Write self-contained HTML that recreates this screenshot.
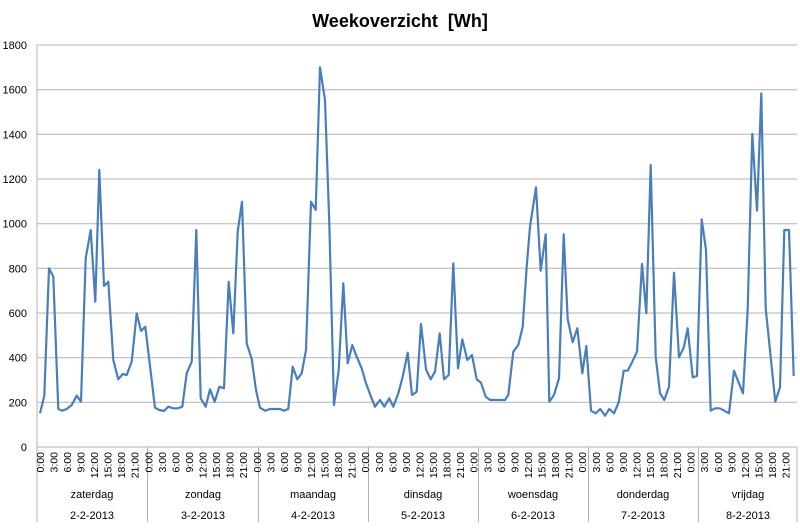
<!DOCTYPE html>
<html><head><meta charset="utf-8"><style>
html,body{margin:0;padding:0;background:#fff;}
svg{display:block;font-family:"Liberation Sans",Calibri,sans-serif;}
</style></head><body>
<svg width="800" height="529" viewBox="0 0 800 529" xmlns="http://www.w3.org/2000/svg">
<rect width="800" height="529" fill="#fff"/>
<text x="400" y="27" text-anchor="middle" font-size="18" font-weight="bold" fill="#000">Weekoverzicht&#160; [Wh]</text>
<g stroke="#b3b3b3" stroke-width="1">
<line x1="37" y1="45" x2="797" y2="45"/>
<line x1="37" y1="89.7" x2="797" y2="89.7"/>
<line x1="37" y1="134.3" x2="797" y2="134.3"/>
<line x1="37" y1="179" x2="797" y2="179"/>
<line x1="37" y1="223.7" x2="797" y2="223.7"/>
<line x1="37" y1="268.3" x2="797" y2="268.3"/>
<line x1="37" y1="313" x2="797" y2="313"/>
<line x1="37" y1="357.7" x2="797" y2="357.7"/>
<line x1="37" y1="402.3" x2="797" y2="402.3"/>
<line x1="37" y1="447" x2="797" y2="447"/>
<line x1="37" y1="45" x2="37" y2="522"/>
<line x1="147.5" y1="447" x2="147.5" y2="522"/>
<line x1="258.5" y1="447" x2="258.5" y2="522"/>
<line x1="368.5" y1="447" x2="368.5" y2="522"/>
<line x1="478.5" y1="447" x2="478.5" y2="522"/>
<line x1="588.5" y1="447" x2="588.5" y2="522"/>
<line x1="698.5" y1="447" x2="698.5" y2="522"/>
<line x1="797" y1="447" x2="797" y2="522"/>
</g>
<g font-size="11" fill="#000" text-anchor="end">
<text x="27" y="49">1800</text>
<text x="27" y="93.7">1600</text>
<text x="27" y="138.3">1400</text>
<text x="27" y="183">1200</text>
<text x="27" y="227.7">1000</text>
<text x="27" y="272.3">800</text>
<text x="27" y="317">600</text>
<text x="27" y="361.7">400</text>
<text x="27" y="406.3">200</text>
<text x="27" y="451">0</text>
</g>
<g id="ticks" font-size="10.5" fill="#000" text-anchor="end"></g>
<g font-size="11" fill="#000" text-anchor="middle">
<text x="92" y="498">zaterdag</text><text x="92" y="519">2-2-2013</text>
<text x="203" y="498">zondag</text><text x="203" y="519">3-2-2013</text>
<text x="313" y="498">maandag</text><text x="313" y="519">4-2-2013</text>
<text x="423" y="498">dinsdag</text><text x="423" y="519">5-2-2013</text>
<text x="533" y="498">woensdag</text><text x="533" y="519">6-2-2013</text>
<text x="643" y="498">donderdag</text><text x="643" y="519">7-2-2013</text>
<text x="748" y="498">vrijdag</text><text x="748" y="519">8-2-2013</text>
</g>
<polyline fill="none" stroke="#4a7ebb" stroke-width="2.2" stroke-linejoin="round" points="
40,413.3 44.3,395.7 49,268.3 53.3,276.7 58.3,409 62.3,410.7 66.7,409 71.7,405 76.7,395.7 81,401.7 85.7,258.3 90.7,230 95.3,301.7 99.3,170 104,286 108.3,281.7 113.3,360 118.3,379.3 122.7,374 126.7,375 131.7,361.7 136.7,313.3 141,331 145.3,326.7 155,407.7 159.3,410 164,411 168.3,406.7 173.3,408.3 177.7,408.3 182.3,406.7 186.7,373.3 191.7,361.7 196.3,230 200.7,398.3 205.7,406.7 210,389.3 214.7,401.7 219.3,386.7 224,388.3 228.7,281.7 233.3,333.3 237.7,231.7 242,201.7 246.7,343.3 251.7,359 256,390 260,407.7 265,410.7
270,409 275,409 280,409 284,410.7 288.3,409 292.7,366.7 297.3,379.3 301.7,373.3 306,350 311,201.7 315.7,210 320,67.3 325,100 329.3,223.3 334,405 338.7,370 343.3,283.3 347.7,363.3 352.3,345 356.7,356.7 361.7,368.3 366,383.3 371,396.7 375,406.7 380,400 384.3,406.7 389.3,398.3 393.3,406.7 398.3,393.3 402.7,376.7 407.7,352.7 412,395 416.7,391.7 421,324 426,369.3 430.7,379.3 435,371.7 439.7,333.3 444,379.3 448.7,375 453.3,263.3 458,368.3 462.3,339.3 467.3,360 472,355 476.7,379.3 481,382.7 485.7,396.7 490,400 495,400 500,400 505,400 508.3,395 513.3,351.7 518.3,345 522.7,326.7 526.7,266.7
530,226.7 536,187.3 540.7,270.7 545.7,234.3 549.3,401.7 554,395 559,378.3 563.7,234.3 567.7,319.3 572.7,342.3 577.3,328.3 582.3,373.3 586.3,346 591,410.7 595.7,413.3 600.3,409 605,415.7 609.3,409 614,413.3 618.7,402.3 623.7,370.7 627.7,370.7 632.3,361.7 637,351.7 642,264 646.3,313.3 650.7,165 655.7,356.7 660,393.3 664.3,400 669,386.7 674,272.7 679,357.3 683.7,347.7 687.7,328.3 692.7,377.3 697,376 701.7,219.3 706,250 710.7,410.7 715,408.3 719.7,408.3 724.3,410.7 729,413.3 734,370.7 738.7,382.7 743,393.3 747.7,309.3 752.3,134 757,210.7 761.3,93.3 765.7,308.3 770.7,357.3 775.3,401.7 780,387.3 784.3,230 789,230 793.7,376"/>
<script>
(function(){
var g=document.getElementById('ticks');var ns='http://www.w3.org/2000/svg';
var labs=['0:00','3:00','6:00','9:00','12:00','15:00','18:00','21:00'];
for(var d=0;d<7;d++){for(var k=0;k<8;k++){
var x=40+(d*24+k*3)*4.52+3.8;
var t=document.createElementNS(ns,'text');
t.setAttribute('transform','translate('+x.toFixed(1)+',452) rotate(-90)');
t.textContent=labs[k];g.appendChild(t);}}
})();
</script>
</svg>
</body></html>
